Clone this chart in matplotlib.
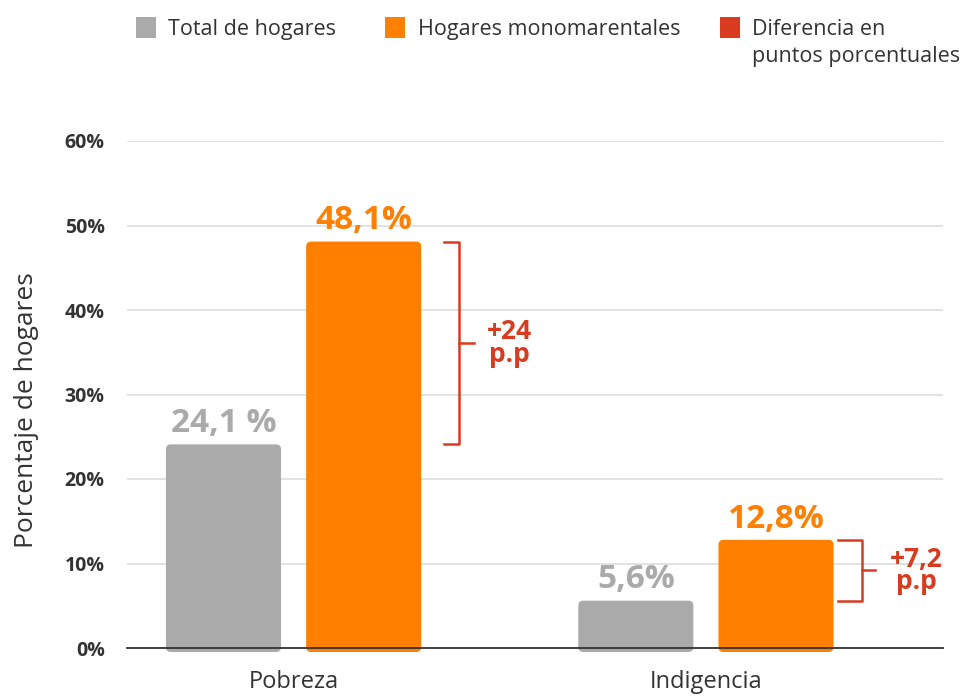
import matplotlib.pyplot as plt
from matplotlib.patches import FancyBboxPatch, Rectangle
import numpy as np

plt.rcParams['font.family'] = ['Open Sans', 'DejaVu Sans']

# data
categories = ['Pobreza', 'Indigencia']
total = [24.1, 5.6]
mono = [48.1, 12.8]
total_labels = ['24,1 %', '5,6%']
mono_labels = ['48,1%', '12,8%']
diff_labels = ['+24\np.p', '+7,2\np.p']
yticks = [0, 10, 20, 30, 40, 50, 60]

GRAY = '#AAAAAA'
ORANGE = '#FF7F00'
RED = '#D83B1F'
TEXT = '#333333'

fig = plt.figure(figsize=(9.6, 6.96), dpi=100)
ax = fig.add_axes([127/960, 1-648/696, (943-127)/960, (648-141)/696])

x = np.arange(len(categories))
w = 0.279
off = 0.17

ax.set_xlim(-0.404, 1.575)
ax.set_ylim(0, 60)

# bars with rounded tops
bars_t = ax.bar(x - off, total, w, color=GRAY)
bars_m = ax.bar(x + off, mono, w, color=ORANGE)
xpp = 1/412.5
ypp = 60/507
for b in list(bars_t) + list(bars_m):
    bx, by = b.get_x(), b.get_y()
    bw, bh = b.get_width(), b.get_height()
    col = b.get_facecolor()
    b.remove()
    p = FancyBboxPatch((bx, by - 4*ypp), bw, bh + 4*ypp,
                       boxstyle='round,pad=0,rounding_size=%f' % (5*xpp),
                       mutation_aspect=ypp/xpp, fc=col, ec='none',
                       clip_on=False, zorder=2)
    ax.add_patch(p)

# value labels
for i in range(len(categories)):
    ax.text(x[i] - off, total[i] + 0.5, total_labels[i], ha='center', va='bottom',
            fontsize=24, fontweight='bold', color=GRAY)
    ax.text(x[i] + off, mono[i] + 0.5, mono_labels[i], ha='center', va='bottom',
            fontsize=24, fontweight='bold', color=ORANGE)

# brackets
br_left = [0.365, 0.32]
br_vert = [0.401, 0.378]
br_tick = [0.437, 0.41]
lab_x = [0.523, 0.51]
for i in range(len(categories)):
    lo, hi = total[i], mono[i]
    ax.plot([x[i] + br_left[i], x[i] + br_vert[i], x[i] + br_vert[i], x[i] + br_left[i]],
            [hi, hi, lo, lo], color=RED, lw=1.8, clip_on=False, zorder=3)
    mid = (lo + hi) / 2
    ax.plot([x[i] + br_vert[i], x[i] + br_tick[i]], [mid, mid], color=RED, lw=1.8,
            clip_on=False, zorder=3)
    ax.text(x[i] + lab_x[i], mid, diff_labels[i], ha='center', va='center',
            fontsize=19, fontweight='bold', color=RED, linespacing=0.78)

# axes styling
ax.set_yticks(yticks)
ax.set_yticklabels(['%d%%' % t for t in yticks], fontsize=14, fontweight='bold', color=TEXT)
ax.set_xticks(x)
ax.set_xticklabels(categories, fontsize=17, color=TEXT)
ax.tick_params(axis='both', length=0)
ax.tick_params(axis='y', pad=16)
ax.tick_params(axis='x', pad=16)
ax.grid(axis='y', color='#DDDDDD', lw=1.2)
ax.set_axisbelow(True)
for s in ['top', 'right', 'left']:
    ax.spines[s].set_visible(False)
ax.spines['bottom'].set_color('#333333')
ax.spines['bottom'].set_linewidth(1.3)
ax.spines['bottom'].set_zorder(4)
ax.set_ylabel('Porcentaje de hogares', fontsize=19, color=TEXT, labelpad=8)
ax.yaxis.set_label_coords(-0.108, 0.47)

# legend
leg_items = [(GRAY, 'Total de hogares', 136, 168),
             (ORANGE, 'Hogares monomarentales', 385, 418),
             (RED, 'Diferencia en\npuntos porcentuales', 720, 752)]
for col, lab, sx, tx in leg_items:
    fig.add_artist(Rectangle((sx/960, 1-38/696), 20/960, 21/696, fc=col, ec='none',
                             transform=fig.transFigure))
    fig.text(tx/960, 1-19/696, lab, ha='left', va='top', fontsize=15.5, color=TEXT,
             linespacing=1.35)

fig.savefig('out.png', dpi=100)
